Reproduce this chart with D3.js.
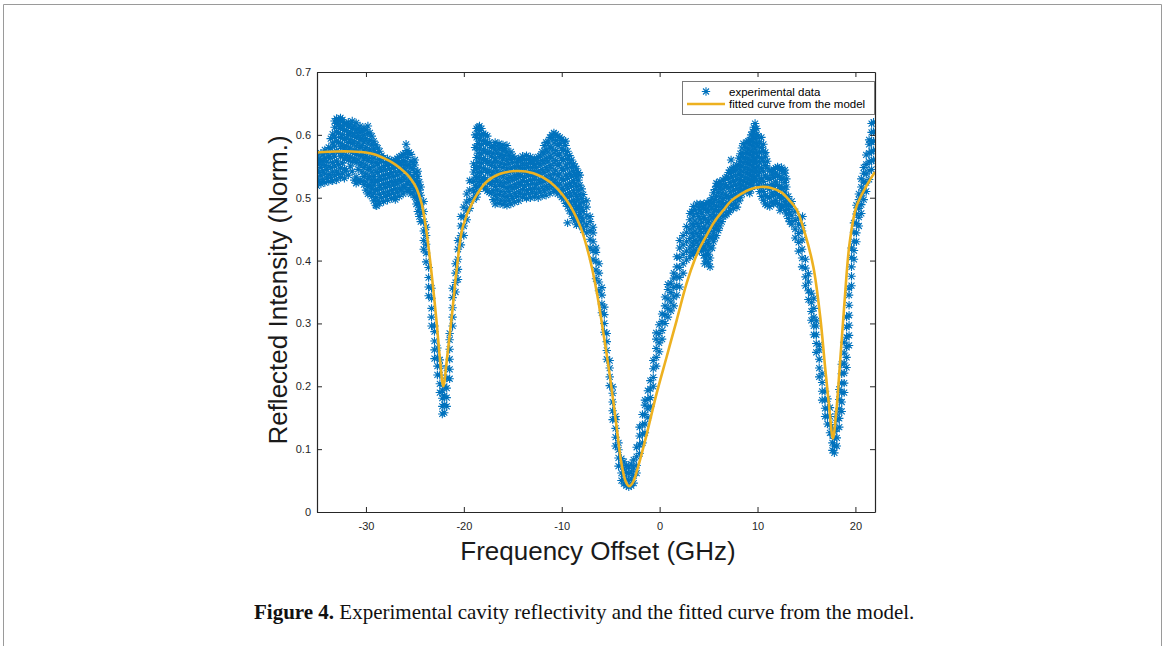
<!DOCTYPE html>
<html>
<head>
<meta charset="utf-8">
<script src="https://cdn.jsdelivr.net/npm/d3@7"></script>
<style>
  body { margin: 0; background: #fff; }
  svg { display: block; }
</style>
</head>
<body>
<div id="chart"></div>
<script>
// Reflectivity scan: blue asterisks = measurement, orange = fitted model

// axis ticks
let xTicks = [-30, -20, -10, 0, 10, 20];
let yTicks = [0, 0.1, 0.2, 0.3, 0.4, 0.5, 0.6, 0.7];

// experimental data, read column by column off the figure
// expX[i] is a frequency offset, expY[i] the points measured around it
let expX = [
  -35.0, -34.6, -34.2, -33.8, -33.4, -33.0, -32.6, -32.2, -31.8, -31.4,
  -31.0, -30.6, -30.2, -29.8, -29.4, -29.0, -28.6, -28.2, -27.8, -27.4,
  -27.0, -26.6, -26.2, -25.8, -25.4, -25.0, -24.7, -24.4, -24.1, -23.85,
  -23.6, -23.3, -23.0, -22.7, -22.45, -22.2, -22.0, -21.75, -21.45, -21.15,
  -20.85, -20.6, -20.3, -20.0, -19.7, -19.4, -19.0, -18.7, -18.4, -18.0,
  -17.6, -17.2, -16.8, -16.4, -16.0, -15.6, -15.2, -14.8, -14.4, -14.0,
  -13.6, -13.2, -12.8, -12.4, -12.0, -11.6, -11.2, -10.8, -10.4, -10.0,
  -9.6, -9.2, -8.8, -8.5, -8.15, -7.8, -7.45, -7.1, -6.8, -6.5,
  -6.2, -5.9, -5.65, -5.4, -5.1, -4.8, -4.5, -4.2, -3.9, -3.65,
  -3.4, -3.15, -2.9, -2.65, -2.35, -2.05, -1.75, -1.5, -1.2, -0.95,
  -0.65, -0.35, -0.05, 0.25, 0.55, 0.85, 1.15, 1.45, 1.75, 2.05,
  2.4, 2.75, 3.1, 3.45, 3.8, 4.15, 4.5, 4.85, 5.15, 5.5,
  5.8, 6.15, 6.5, 6.85, 7.2, 7.55, 7.9, 8.25, 8.55, 8.9,
  9.2, 9.5, 9.75, 10.05, 10.4, 10.8, 11.25, 11.65, 12.05, 12.45,
  12.8, 13.15, 13.5, 13.85, 14.2, 14.55, 14.9, 15.2, 15.5, 15.75,
  16.0, 16.3, 16.6, 16.9, 17.15, 17.4, 17.65, 17.85, 18.1, 18.35,
  18.6, 18.85, 19.1, 19.35, 19.6, 19.85, 20.1, 20.35, 20.6, 20.85,
  21.1, 21.4, 21.65, 21.85
];
let expY = [
  [0.519, 0.531, 0.543, 0.556, 0.566],
  [0.522, 0.535, 0.548, 0.559, 0.571],
  [0.524, 0.538, 0.551, 0.563, 0.576],
  [0.526, 0.537, 0.55, 0.566, 0.58],
  [0.527, 0.541, 0.556, 0.571, 0.587, 0.601],
  [0.528, 0.542, 0.558, 0.574, 0.59, 0.605, 0.618, 0.626],
  [0.532, 0.547, 0.566, 0.581, 0.596, 0.61, 0.622, 0.627],
  [0.531, 0.546, 0.562, 0.578, 0.593, 0.607, 0.619],
  [0.536, 0.56, 0.575, 0.588, 0.601, 0.613, 0.62],
  [0.542, 0.557, 0.572, 0.586, 0.598, 0.61, 0.622],
  [0.523, 0.533, 0.556, 0.569, 0.582, 0.596, 0.608, 0.619],
  [0.528, 0.552, 0.567, 0.58, 0.593, 0.604, 0.614],
  [0.521, 0.534, 0.548, 0.562, 0.576, 0.589, 0.6, 0.611],
  [0.506, 0.518, 0.531, 0.545, 0.559, 0.573, 0.587, 0.602, 0.614],
  [0.502, 0.514, 0.527, 0.541, 0.556, 0.57, 0.584, 0.598],
  [0.488, 0.5, 0.513, 0.527, 0.541, 0.556, 0.571, 0.584],
  [0.491, 0.505, 0.519, 0.533, 0.547, 0.561, 0.574],
  [0.494, 0.508, 0.522, 0.536, 0.55, 0.563],
  [0.496, 0.509, 0.523, 0.537, 0.551, 0.562],
  [0.499, 0.512, 0.526, 0.54, 0.553, 0.559],
  [0.501, 0.514, 0.527, 0.541, 0.554, 0.56],
  [0.502, 0.515, 0.529, 0.543, 0.556, 0.565],
  [0.506, 0.519, 0.533, 0.547, 0.559, 0.569],
  [0.51, 0.523, 0.537, 0.551, 0.564, 0.575],
  [0.506, 0.519, 0.533, 0.547, 0.558, 0.569],
  [0.501, 0.514, 0.527, 0.54, 0.552, 0.56],
  [0.478, 0.492, 0.506, 0.52, 0.534, 0.542],
  [0.462, 0.476, 0.49, 0.504, 0.517],
  [0.418, 0.432, 0.447, 0.462, 0.478, 0.494],
  [0.398, 0.412, 0.426, 0.44, 0.453],
  [0.344, 0.358, 0.373, 0.389],
  [0.296, 0.31, 0.324, 0.34, 0.356],
  [0.244, 0.258, 0.272, 0.287, 0.296],
  [0.218, 0.232, 0.246, 0.261],
  [0.19, 0.204, 0.218, 0.232, 0.242],
  [0.156, 0.168, 0.181, 0.193],
  [0.158, 0.171, 0.185, 0.2],
  [0.168, 0.182, 0.197, 0.213, 0.229],
  [0.212, 0.227, 0.243, 0.259, 0.274, 0.284],
  [0.296, 0.31, 0.325, 0.341, 0.356],
  [0.35, 0.365, 0.38, 0.395],
  [0.37, 0.386, 0.402, 0.418, 0.432],
  [0.425, 0.44, 0.455, 0.47],
  [0.44, 0.455, 0.47, 0.485],
  [0.465, 0.479, 0.493, 0.506],
  [0.483, 0.497, 0.512, 0.527],
  [0.497, 0.511, 0.526, 0.541, 0.554],
  [0.501, 0.516, 0.532, 0.548, 0.564, 0.58, 0.596, 0.61],
  [0.519, 0.533, 0.548, 0.563, 0.578, 0.593, 0.607, 0.614],
  [0.518, 0.532, 0.547, 0.562, 0.577, 0.591, 0.602],
  [0.511, 0.525, 0.54, 0.555, 0.57, 0.585, 0.598],
  [0.507, 0.521, 0.536, 0.551, 0.566, 0.58],
  [0.49, 0.504, 0.518, 0.533, 0.548, 0.562, 0.576, 0.588],
  [0.491, 0.505, 0.52, 0.535, 0.55, 0.565, 0.578, 0.586],
  [0.489, 0.503, 0.518, 0.533, 0.548, 0.562, 0.575, 0.584],
  [0.488, 0.502, 0.516, 0.531, 0.546, 0.56, 0.573, 0.583],
  [0.49, 0.504, 0.518, 0.532, 0.547, 0.561, 0.573],
  [0.493, 0.507, 0.521, 0.535, 0.549, 0.563],
  [0.495, 0.509, 0.523, 0.537, 0.55, 0.562],
  [0.5, 0.513, 0.527, 0.541, 0.554, 0.566],
  [0.499, 0.512, 0.526, 0.54, 0.554, 0.567],
  [0.5, 0.514, 0.528, 0.542, 0.555, 0.565],
  [0.501, 0.515, 0.529, 0.542, 0.553, 0.562],
  [0.5, 0.514, 0.528, 0.542, 0.555, 0.565],
  [0.503, 0.517, 0.531, 0.545, 0.559, 0.573],
  [0.504, 0.518, 0.533, 0.548, 0.563, 0.577, 0.588],
  [0.507, 0.521, 0.536, 0.551, 0.566, 0.581, 0.596],
  [0.51, 0.524, 0.539, 0.555, 0.571, 0.587, 0.603],
  [0.506, 0.52, 0.535, 0.551, 0.567, 0.583, 0.598],
  [0.501, 0.515, 0.53, 0.546, 0.562, 0.578, 0.593],
  [0.491, 0.505, 0.52, 0.536, 0.552, 0.568, 0.583, 0.59],
  [0.479, 0.493, 0.508, 0.523, 0.539, 0.555, 0.567],
  [0.467, 0.481, 0.496, 0.511, 0.527, 0.542, 0.554],
  [0.457, 0.471, 0.486, 0.502, 0.518, 0.533, 0.546],
  [0.462, 0.476, 0.49, 0.505, 0.52, 0.536],
  [0.449, 0.463, 0.478, 0.493, 0.505],
  [0.444, 0.457, 0.471, 0.485, 0.495],
  [0.42, 0.434, 0.448, 0.462, 0.47],
  [0.402, 0.416, 0.43, 0.444, 0.453],
  [0.371, 0.385, 0.399, 0.413, 0.42],
  [0.352, 0.366, 0.38, 0.395],
  [0.317, 0.331, 0.345, 0.357],
  [0.286, 0.3, 0.314, 0.326],
  [0.243, 0.257, 0.271, 0.284],
  [0.201, 0.215, 0.229, 0.241],
  [0.147, 0.161, 0.175, 0.189, 0.199],
  [0.105, 0.119, 0.133, 0.147, 0.152],
  [0.073, 0.086, 0.099, 0.11],
  [0.05, 0.062, 0.075, 0.085],
  [0.045, 0.056, 0.068, 0.08],
  [0.042, 0.052, 0.063, 0.074],
  [0.04, 0.05, 0.061, 0.072],
  [0.042, 0.053, 0.064, 0.076],
  [0.046, 0.058, 0.07, 0.083],
  [0.062, 0.074, 0.088, 0.103],
  [0.093, 0.107, 0.121, 0.135],
  [0.11, 0.124, 0.139, 0.155],
  [0.126, 0.14, 0.155, 0.17, 0.178],
  [0.15, 0.164, 0.179, 0.193],
  [0.168, 0.182, 0.196, 0.209],
  [0.2, 0.214, 0.228, 0.241],
  [0.232, 0.246, 0.26, 0.275, 0.285],
  [0.255, 0.269, 0.284, 0.298],
  [0.275, 0.289, 0.303, 0.315],
  [0.3, 0.314, 0.328, 0.342],
  [0.31, 0.324, 0.339, 0.354, 0.362],
  [0.32, 0.334, 0.349, 0.364],
  [0.328, 0.342, 0.357, 0.372, 0.38],
  [0.345, 0.36, 0.375, 0.39, 0.406],
  [0.358, 0.373, 0.389, 0.405, 0.42, 0.432],
  [0.38, 0.395, 0.41, 0.425, 0.44],
  [0.401, 0.415, 0.43, 0.445, 0.454],
  [0.406, 0.42, 0.435, 0.45, 0.465, 0.475],
  [0.41, 0.424, 0.439, 0.455, 0.471, 0.486],
  [0.414, 0.428, 0.443, 0.459, 0.475, 0.49],
  [0.42, 0.434, 0.449, 0.465, 0.48, 0.49],
  [0.408, 0.422, 0.437, 0.453, 0.469, 0.484, 0.49],
  [0.398, 0.412, 0.427, 0.443, 0.46, 0.477, 0.492],
  [0.39, 0.404, 0.42, 0.437, 0.455, 0.472, 0.487, 0.495],
  [0.43, 0.445, 0.46, 0.476, 0.492, 0.508],
  [0.44, 0.455, 0.47, 0.486, 0.502, 0.518, 0.523],
  [0.455, 0.47, 0.485, 0.5, 0.515, 0.526],
  [0.47, 0.484, 0.499, 0.514, 0.528],
  [0.474, 0.488, 0.503, 0.518, 0.533],
  [0.48, 0.494, 0.509, 0.524, 0.539, 0.544],
  [0.483, 0.497, 0.512, 0.527, 0.542, 0.548],
  [0.485, 0.499, 0.514, 0.529, 0.544, 0.552],
  [0.5, 0.514, 0.529, 0.544, 0.558, 0.57],
  [0.512, 0.526, 0.541, 0.556, 0.571, 0.586],
  [0.51, 0.524, 0.54, 0.556, 0.572, 0.588],
  [0.507, 0.521, 0.537, 0.553, 0.569, 0.585, 0.592],
  [0.52, 0.534, 0.55, 0.566, 0.582, 0.598, 0.605],
  [0.533, 0.547, 0.562, 0.578, 0.594, 0.608, 0.618],
  [0.52, 0.535, 0.55, 0.566, 0.582, 0.598],
  [0.502, 0.516, 0.531, 0.547, 0.563, 0.58, 0.596],
  [0.49, 0.504, 0.519, 0.535, 0.551, 0.566, 0.572],
  [0.486, 0.5, 0.514, 0.529, 0.543],
  [0.49, 0.504, 0.518, 0.532, 0.545],
  [0.491, 0.505, 0.52, 0.535, 0.549],
  [0.485, 0.499, 0.514, 0.529, 0.544, 0.548],
  [0.48, 0.494, 0.509, 0.524, 0.539, 0.544],
  [0.467, 0.481, 0.495, 0.502],
  [0.458, 0.472, 0.486, 0.494],
  [0.436, 0.45, 0.464, 0.478],
  [0.415, 0.429, 0.443, 0.458, 0.468],
  [0.39, 0.404, 0.418, 0.433, 0.447, 0.456],
  [0.36, 0.374, 0.388, 0.402],
  [0.338, 0.352, 0.366, 0.379],
  [0.305, 0.319, 0.333, 0.348],
  [0.282, 0.296, 0.31, 0.324, 0.34],
  [0.254, 0.268, 0.282, 0.296, 0.304],
  [0.215, 0.229, 0.243, 0.258, 0.266],
  [0.178, 0.192, 0.206, 0.22],
  [0.152, 0.165, 0.178, 0.192],
  [0.14, 0.152, 0.165, 0.18],
  [0.126, 0.139, 0.152, 0.166],
  [0.098, 0.11, 0.122, 0.132],
  [0.094, 0.105, 0.117, 0.128],
  [0.105, 0.118, 0.132, 0.146, 0.156],
  [0.135, 0.149, 0.164, 0.179, 0.195],
  [0.16, 0.175, 0.19, 0.205, 0.22, 0.235],
  [0.19, 0.205, 0.221, 0.237, 0.253, 0.27],
  [0.23, 0.246, 0.262, 0.278, 0.294, 0.31],
  [0.265, 0.281, 0.297, 0.313, 0.329, 0.345, 0.356],
  [0.36, 0.375, 0.39, 0.405, 0.42],
  [0.402, 0.416, 0.43, 0.445, 0.46],
  [0.43, 0.444, 0.459, 0.474, 0.488],
  [0.455, 0.469, 0.483, 0.497, 0.506],
  [0.475, 0.489, 0.503, 0.517, 0.53],
  [0.497, 0.511, 0.525, 0.539, 0.548],
  [0.51, 0.524, 0.538, 0.553, 0.568],
  [0.529, 0.543, 0.557, 0.571, 0.585, 0.592],
  [0.545, 0.559, 0.574, 0.589, 0.604, 0.618],
  [0.56, 0.575, 0.59, 0.605, 0.62]
];

// second pass of points in the thick plateau parts of the cloud
let fillX = [
  -34.8, -34.4, -34.0, -33.6, -33.2, -32.8, -32.4, -32.0, -31.6, -31.2,
  -30.8, -30.4, -30.0, -29.6, -29.2, -28.8, -28.4, -28.0, -27.6, -27.2,
  -26.8, -26.4, -26.0, -25.6, -25.2, -24.85, -24.55,
  -18.85, -18.55, -18.2, -17.8, -17.4, -17.0, -16.6, -16.2, -15.8, -15.4,
  -15.0, -14.6, -14.2, -13.8, -13.4, -13.0, -12.6, -12.2, -11.8, -11.4,
  -11.0, -10.6, -10.2, -9.8, -9.4, -9.0, -8.65, -8.3, -7.95,
  3.3, 3.6, 4.0, 4.3, 4.7, 5.0, 5.35, 5.65, 6.0, 6.35,
  6.7, 7.05, 7.4, 7.75, 8.1, 8.4, 8.75, 9.05, 9.35, 9.62,
  9.9, 10.2, 10.6, 11.0, 11.45, 11.85, 12.25, 12.6, 12.95, 13.3
];
let fillY = [
  [0.526, 0.54, 0.553, 0.562],
  [0.529, 0.543, 0.557, 0.568],
  [0.531, 0.545, 0.558, 0.572],
  [0.533, 0.548, 0.563, 0.579, 0.594],
  [0.535, 0.55, 0.566, 0.582, 0.597, 0.612, 0.622],
  [0.538, 0.553, 0.573, 0.588, 0.603, 0.616, 0.624],
  [0.539, 0.555, 0.57, 0.585, 0.6, 0.614, 0.624],
  [0.543, 0.567, 0.582, 0.595, 0.607, 0.617],
  [0.55, 0.564, 0.579, 0.592, 0.604, 0.616],
  [0.528, 0.562, 0.575, 0.589, 0.602, 0.614],
  [0.527, 0.545, 0.56, 0.574, 0.587, 0.599, 0.61],
  [0.526, 0.541, 0.555, 0.569, 0.583, 0.595, 0.607],
  [0.512, 0.525, 0.538, 0.552, 0.566, 0.58, 0.594, 0.608],
  [0.508, 0.52, 0.534, 0.548, 0.563, 0.577, 0.591, 0.603],
  [0.495, 0.507, 0.52, 0.534, 0.549, 0.563, 0.577, 0.59],
  [0.496, 0.512, 0.526, 0.54, 0.554, 0.568, 0.579],
  [0.5, 0.515, 0.529, 0.543, 0.557, 0.567],
  [0.502, 0.516, 0.53, 0.544, 0.556],
  [0.505, 0.519, 0.533, 0.546, 0.556],
  [0.507, 0.52, 0.534, 0.547, 0.557],
  [0.508, 0.522, 0.536, 0.55, 0.562],
  [0.512, 0.526, 0.54, 0.553, 0.566],
  [0.516, 0.53, 0.544, 0.557, 0.571],
  [0.513, 0.526, 0.54, 0.553, 0.572],
  [0.508, 0.521, 0.534, 0.546, 0.556],
  [0.49, 0.5, 0.513, 0.527, 0.54],
  [0.47, 0.484, 0.498, 0.512, 0.525],
  [0.504, 0.519, 0.533, 0.548, 0.58, 0.6],
  [0.51, 0.525, 0.54, 0.556, 0.571, 0.586, 0.601, 0.612],
  [0.526, 0.54, 0.555, 0.57, 0.585, 0.6, 0.61],
  [0.514, 0.529, 0.544, 0.559, 0.574, 0.589, 0.6],
  [0.509, 0.524, 0.543, 0.558, 0.573, 0.588],
  [0.497, 0.511, 0.526, 0.541, 0.556, 0.57, 0.583],
  [0.498, 0.512, 0.527, 0.542, 0.557, 0.571, 0.582],
  [0.496, 0.51, 0.525, 0.54, 0.555, 0.569, 0.58],
  [0.495, 0.509, 0.524, 0.539, 0.553, 0.567, 0.578],
  [0.496, 0.51, 0.525, 0.54, 0.554, 0.567],
  [0.499, 0.514, 0.528, 0.542, 0.556, 0.566],
  [0.502, 0.516, 0.53, 0.543, 0.556],
  [0.506, 0.52, 0.534, 0.547, 0.56],
  [0.505, 0.519, 0.533, 0.547, 0.561],
  [0.507, 0.521, 0.535, 0.548, 0.561],
  [0.508, 0.522, 0.535, 0.548, 0.558],
  [0.507, 0.521, 0.535, 0.548, 0.56],
  [0.509, 0.524, 0.538, 0.552, 0.566],
  [0.511, 0.526, 0.54, 0.555, 0.57, 0.583],
  [0.514, 0.528, 0.543, 0.558, 0.573, 0.589],
  [0.517, 0.531, 0.547, 0.563, 0.579, 0.595, 0.6],
  [0.513, 0.528, 0.543, 0.559, 0.575, 0.591, 0.601],
  [0.508, 0.522, 0.538, 0.554, 0.57, 0.586, 0.596],
  [0.498, 0.512, 0.528, 0.544, 0.56, 0.575, 0.589],
  [0.486, 0.5, 0.515, 0.531, 0.547, 0.561, 0.574],
  [0.474, 0.488, 0.503, 0.518, 0.534, 0.548, 0.56],
  [0.463, 0.477, 0.492, 0.507, 0.522, 0.537, 0.55],
  [0.47, 0.483, 0.497, 0.512, 0.528, 0.54],
  [0.455, 0.469, 0.484, 0.499, 0.514],
  [0.413, 0.428, 0.443, 0.458, 0.478],
  [0.417, 0.432, 0.447, 0.463, 0.481],
  [0.424, 0.438, 0.454, 0.47, 0.484],
  [0.415, 0.43, 0.445, 0.461, 0.476, 0.488],
  [0.404, 0.418, 0.434, 0.45, 0.466, 0.482],
  [0.395, 0.41, 0.428, 0.446, 0.463, 0.48, 0.491],
  [0.42, 0.437, 0.453, 0.468, 0.484, 0.5],
  [0.436, 0.451, 0.466, 0.481, 0.497, 0.513],
  [0.448, 0.463, 0.478, 0.493, 0.508, 0.522],
  [0.462, 0.477, 0.492, 0.507, 0.521],
  [0.472, 0.491, 0.506, 0.521, 0.531],
  [0.477, 0.491, 0.5, 0.516, 0.531, 0.54],
  [0.488, 0.503, 0.518, 0.533, 0.545],
  [0.49, 0.505, 0.52, 0.535, 0.549],
  [0.495, 0.508, 0.522, 0.537, 0.552, 0.563],
  [0.506, 0.52, 0.535, 0.55, 0.565, 0.579],
  [0.517, 0.532, 0.548, 0.564, 0.58],
  [0.514, 0.529, 0.545, 0.561, 0.577, 0.59],
  [0.513, 0.527, 0.543, 0.558, 0.574, 0.59, 0.6],
  [0.527, 0.541, 0.556, 0.572, 0.588, 0.603, 0.612],
  [0.528, 0.542, 0.556, 0.571, 0.586, 0.6, 0.61],
  [0.51, 0.525, 0.541, 0.557, 0.573, 0.589],
  [0.496, 0.51, 0.526, 0.542, 0.558, 0.574, 0.585],
  [0.488, 0.501, 0.516, 0.532, 0.547, 0.558],
  [0.493, 0.507, 0.521, 0.536, 0.542],
  [0.496, 0.51, 0.525, 0.539, 0.547],
  [0.489, 0.503, 0.518, 0.533, 0.546],
  [0.487, 0.501, 0.516, 0.531, 0.542],
  [0.474, 0.488, 0.502, 0.517, 0.53],
  [0.462, 0.476, 0.49]
];

// a few stray points off the main band
let strayX = [-28.9, -27.0, -25.9, -9.4, 4.6, 7.3, 12.3, 14.6];
let strayY = [0.487, 0.497, 0.585, 0.46, 0.395, 0.56, 0.48, 0.47];

// fitted curve from the model
let fitX = [
  -35, -33, -31.5, -30, -29, -28.2, -27.3, -26.5, -25.8, -25.2,
  -24.8, -24.3, -23.8, -23.3, -22.8, -22.4, -22.1, -21.7, -21.2, -20.7,
  -20.1, -19.0, -17.7, -16.3, -14.6, -12.9, -11.2, -9.5, -8.1, -7.1,
  -6.4, -5.75, -5.07, -4.4, -3.9, -3.45, -3.1, -2.7, -2.2, -1.3,
  -0.3, 0.72, 1.74, 2.76, 3.6, 4.1, 4.8, 5.6, 6.5, 7.3,
  8.2, 9.2, 10.3, 11.3, 12.4, 13.3, 14.0, 14.85, 15.7, 16.4,
  16.9, 17.35, 17.7, 18.0, 18.4, 18.9, 19.4, 20.1, 21.1, 22.0
];
let fitY = [
  0.572, 0.5735, 0.5735, 0.572, 0.5685, 0.563, 0.556, 0.547, 0.537, 0.525,
  0.514, 0.49, 0.444, 0.38, 0.305, 0.237, 0.2, 0.247, 0.316, 0.39,
  0.454, 0.496, 0.525, 0.538, 0.5425, 0.539, 0.525, 0.496, 0.454, 0.401,
  0.348, 0.285, 0.215, 0.136, 0.077, 0.048, 0.041, 0.048, 0.072, 0.125,
  0.189, 0.247, 0.305, 0.364, 0.402, 0.42, 0.44, 0.462, 0.48, 0.495,
  0.505, 0.513, 0.517, 0.516, 0.509, 0.495, 0.481, 0.443, 0.39, 0.311,
  0.231, 0.162, 0.117, 0.152, 0.231, 0.337, 0.427, 0.486, 0.518, 0.541
];

let legendLabels = ["experimental data", "fitted curve from the model"];

////////////////////////////////////////////////////////////////////////
// layout

let width = 1165, height = 646;
let plot = { left: 317, right: 875, top: 72, bottom: 512 };
let axisColor = "#262626";
let blue = "#0072BD", gold = "#EDB120";
let sans = "'Liberation Sans', Arial, Helvetica, sans-serif";

let svg = d3.select("#chart")
  .append("svg")
  .attr("width", width)
  .attr("height", height);

// page frame
svg.append("path")
  .attr("d", `M3.5,${height} V4.5 H1161.5 V${height}`)
  .style("fill", "none")
  .style("stroke", "#9a9a9a")
  .style("stroke-width", 1);

let xScale = d3.scaleLinear().domain([-35, 22]).range([plot.left, plot.right]);
let yScale = d3.scaleLinear().domain([0, 0.7]).range([plot.bottom, plot.top]);

svg.append("clipPath")
  .attr("id", "clip")
  .append("rect")
  .attr("x", plot.left)
  .attr("y", plot.top)
  .attr("width", plot.right - plot.left)
  .attr("height", plot.bottom - plot.top);

// flatten the column data into points
let expData = [];
expX.forEach((x, i) => expY[i].forEach(y => expData.push([x, y])));
fillX.forEach((x, i) => fillY[i].forEach(y => expData.push([x, y])));
strayX.forEach((x, i) => expData.push([x, strayY[i]]));

// matlab style asterisk marker
let star = "M-4.2,0H4.2M0,-4.2V4.2M-3,-3L3,3M-3,3L3,-3";

let g = svg.append("g").attr("clip-path", "url(#clip)");

g.append("g")
  .selectAll("path")
  .data(expData)
  .join("path")
  .attr("transform", d => `translate(${xScale(d[0])},${yScale(d[1])})`)
  .attr("d", star)
  .style("fill", "none")
  .style("stroke", blue)
  .style("stroke-width", 1.1);

let line = d3.line()
  .x((d, i) => xScale(d))
  .y((d, i) => yScale(fitY[i]))
  .curve(d3.curveCatmullRom.alpha(0.5));

g.append("path")
  .datum(fitX)
  .attr("d", line)
  .style("fill", "none")
  .style("stroke", gold)
  .style("stroke-width", 2.6);

// axes: ticks inward on all four sides
let tickLen = 5;
let xAxisB = d3.axisBottom(xScale).tickValues(xTicks).tickSizeInner(-tickLen).tickSizeOuter(0).tickPadding(10).tickFormat(d => String(d));
let xAxisT = d3.axisTop(xScale).tickValues(xTicks).tickSizeInner(-tickLen).tickSizeOuter(0).tickFormat("");
let yAxisL = d3.axisLeft(yScale).tickValues(yTicks).tickSizeInner(-tickLen).tickSizeOuter(0).tickPadding(6).tickFormat(d => String(d));
let yAxisR = d3.axisRight(yScale).tickValues(yTicks).tickSizeInner(-tickLen).tickSizeOuter(0).tickFormat("");

let axes = [
  svg.append("g").attr("transform", `translate(0,${plot.bottom})`).call(xAxisB),
  svg.append("g").attr("transform", `translate(0,${plot.top})`).call(xAxisT),
  svg.append("g").attr("transform", `translate(${plot.left},0)`).call(yAxisL),
  svg.append("g").attr("transform", `translate(${plot.right},0)`).call(yAxisR)
];
axes.forEach(a => {
  a.select(".domain").style("stroke", axisColor).style("stroke-width", 1.2);
  a.selectAll(".tick line").style("stroke", axisColor);
  a.selectAll(".tick text")
    .style("fill", axisColor)
    .style("font-family", sans)
    .style("font-size", "11px");
});

// axis titles
svg.append("text")
  .attr("x", 598)
  .attr("y", 560)
  .attr("text-anchor", "middle")
  .style("font-family", sans)
  .style("font-size", "26px")
  .style("fill", "#1a1a1a")
  .text("Frequency Offset (GHz)");

svg.append("text")
  .attr("transform", "translate(287,290) rotate(-90)")
  .attr("text-anchor", "middle")
  .style("font-family", sans)
  .style("font-size", "26px")
  .style("fill", "#1a1a1a")
  .text("Reflected Intensity (Norm.)");

// legend
let lg = svg.append("g").attr("transform", "translate(682,81)");
lg.append("rect")
  .attr("x", 0.5).attr("y", 0.5)
  .attr("width", 192).attr("height", 33)
  .style("fill", "#fff")
  .style("stroke", "#7a7a7a")
  .style("stroke-width", 1);
lg.append("path")
  .attr("transform", "translate(24,10.5)")
  .attr("d", star)
  .style("fill", "none")
  .style("stroke", blue)
  .style("stroke-width", 1.1);
lg.append("line")
  .attr("x1", 5).attr("x2", 43)
  .attr("y1", 23).attr("y2", 23)
  .style("stroke", gold)
  .style("stroke-width", 2.6);
lg.selectAll("text.lab")
  .data(legendLabels)
  .join("text")
  .attr("class", "lab")
  .attr("x", 47)
  .attr("y", (d, i) => 14.5 + i * 12)
  .style("font-family", sans)
  .style("font-size", "11.5px")
  .style("fill", "#000")
  .text(d => d);

// caption
let cap = svg.append("text")
  .attr("x", 254)
  .attr("y", 619)
  .style("font-family", "'Liberation Serif', 'Times New Roman', serif")
  .style("font-size", "21px")
  .style("fill", "#111");
cap.append("tspan").style("font-weight", "bold").text("Figure 4.");
cap.append("tspan").text(" Experimental cavity reflectivity and the fitted curve from the model.");
</script>
</body>
</html>
